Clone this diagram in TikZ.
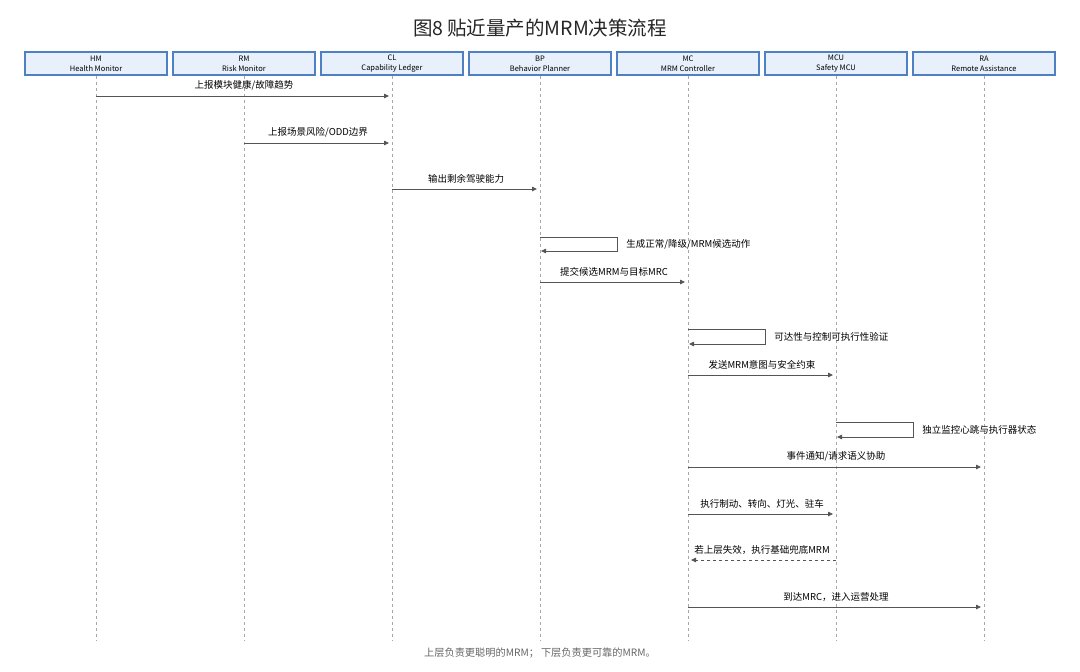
\documentclass[tikz,border=0pt]{standalone}
\usepackage{fontspec}
\setmainfont{Noto Sans CJK SC}
\usetikzlibrary{arrows.meta}
\definecolor{boxfill}{HTML}{E8F0FC}
\definecolor{boxline}{HTML}{4F80C4}
\definecolor{msgline}{HTML}{555555}
\definecolor{lifeline}{HTML}{A8A8A8}
\definecolor{notegray}{HTML}{666666}
\tikzset{
  actor/.style={draw=boxline, fill=boxfill, line width=1.2pt, minimum width=142pt, minimum height=23pt, inner sep=0pt, align=center, font=\fontsize{7.5}{10}\selectfont},
  life/.style={draw=lifeline, dashed, line width=0.6pt},
  msg/.style={draw=msgline, line width=0.8pt, shorten >=3pt, -{Triangle[length=5pt,width=4.5pt]}},
  selfmsg/.style={draw=msgline, line width=0.8pt, shorten >=1pt, -{Triangle[length=5pt,width=4.5pt]}},
  msglabel/.style={font=\fontsize{9.5}{10}\selectfont, inner sep=0pt}
}
\begin{document}
\begin{tikzpicture}[x=1pt,y=-1pt]
\useasboundingbox[fill=white] (0,0) rectangle (1080,672);
\node[font=\fontsize{19.5}{22}\selectfont, text=black!85] (title) at (540,28) {图8\hspace{4pt}贴近量产的MRM决策流程};
\node[actor] (hm) at (96,63.5) {HM\\Health Monitor};
\node[actor] (rm) at (244,63.5) {RM\\Risk Monitor};
\node[actor] (cl) at (392,63.5) {CL\\Capability Ledger};
\node[actor] (bp) at (540,63.5) {BP\\Behavior Planner};
\node[actor] (mc) at (688,63.5) {MC\\MRM Controller};
\node[actor] (mcu) at (836,63.5) {MCU\\Safety MCU};
\node[actor] (ra) at (984,63.5) {RA\\Remote Assistance};
\coordinate (hmEnd) at (96,640);
\coordinate (rmEnd) at (244,640);
\coordinate (clEnd) at (392,640);
\coordinate (bpEnd) at (540,640);
\coordinate (mcEnd) at (688,640);
\coordinate (mcuEnd) at (836,640);
\coordinate (raEnd) at (984,640);
\draw[life] (hm.south) -- (hmEnd);
\draw[life] (rm.south) -- (rmEnd);
\draw[life] (cl.south) -- (clEnd);
\draw[life] (bp.south) -- (bpEnd);
\draw[life] (mc.south) -- (mcEnd);
\draw[life] (mcu.south) -- (mcuEnd);
\draw[life] (ra.south) -- (raEnd);

\coordinate (hm1) at (96,96);
\coordinate (cl1) at (392,96);
\draw[msg] (hm1) -- node[msglabel, above=5pt] {上报模块健康/故障趋势} (cl1);
\coordinate (rm2) at (244,143);
\coordinate (cl2) at (392,143);
\draw[msg] (rm2) -- node[msglabel, above=5pt] {上报场景风险/ODD边界} (cl2);
\coordinate (cl3) at (392,189);
\coordinate (bp3) at (540,189);
\draw[msg] (cl3) -- node[msglabel, above=5pt] {输出剩余驾驶能力} (bp3);
\coordinate (bp4) at (540,237);
\coordinate (bp4r) at (540,251);
\draw[selfmsg] (bp4) -- ++(77,0) -- node[msglabel, right=9pt] {生成正常/降级/MRM候选动作} ++(0,14) -- (bp4r);
\coordinate (bp5) at (540,282);
\coordinate (mc5) at (688,282);
\draw[msg] (bp5) -- node[msglabel, above=5pt] {提交候选MRM与目标MRC} (mc5);
\coordinate (mc6) at (688,329);
\coordinate (mc6r) at (688,344);
\draw[selfmsg] (mc6) -- ++(77,0) -- node[msglabel, right=9pt] {可达性与控制可执行性验证} ++(0,15) -- (mc6r);
\coordinate (mc7) at (688,375);
\coordinate (mcu7) at (836,375);
\draw[msg] (mc7) -- node[msglabel, above=5pt] {发送MRM意图与安全约束} (mcu7);
\coordinate (mcu8) at (836,422);
\coordinate (mcu8r) at (836,437);
\draw[selfmsg] (mcu8) -- ++(77,0) -- node[msglabel, right=9pt] {独立监控心跳与执行器状态} ++(0,15) -- (mcu8r);
\coordinate (mc9) at (688,467);
\coordinate (ra9) at (984,467);
\draw[msg] (mc9) -- node[msglabel, above=5pt] {事件通知/请求语义协助} (ra9);
\coordinate (mc10) at (688,514);
\coordinate (mcu10) at (836,514);
\draw[msg] (mc10) -- node[msglabel, above=5pt] {执行制动、转向、灯光、驻车} (mcu10);
\coordinate (mcu11) at (836,560);
\coordinate (mc11) at (688,560);
\draw[msg, dashed] (mcu11) -- node[msglabel, above=5pt] {若上层失效，执行基础兜底MRM} (mc11);
\coordinate (mc12) at (688,607);
\coordinate (ra12) at (984,607);
\draw[msg] (mc12) -- node[msglabel, above=5pt] {到达MRC，进入运营处理} (ra12);

\node[font=\fontsize{10.2}{11}\selectfont, text=notegray] (note) at (540,653) {上层负责更聪明的MRM；\hspace{2pt}下层负责更可靠的MRM。};
\end{tikzpicture}
\end{document}
